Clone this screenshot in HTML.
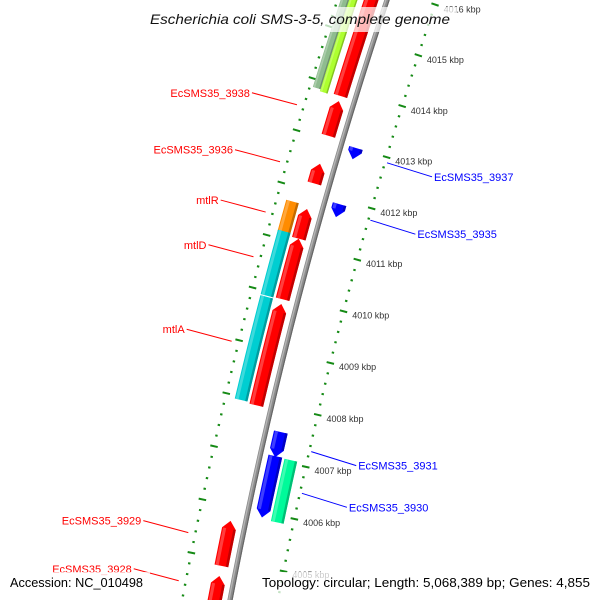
<!DOCTYPE html>
<html><head><meta charset="utf-8"><title>Escherichia coli SMS-3-5 genome map</title>
<style>
html,body{margin:0;padding:0;background:#fff;width:600px;height:600px;overflow:hidden;}
svg{display:block;font-family:"Liberation Sans",sans-serif;overflow:hidden;}
</style></head>
<body>
<svg id="map" width="600" height="600" viewBox="0 0 600 600" xmlns="http://www.w3.org/2000/svg">
<rect x="0" y="0" width="600" height="600" fill="#fff"/>
<g id="ticks"></g>
<g id="backbone"></g>
<g id="features"></g>
<g id="labels"></g>
<g id="tickLabels"></g>
<rect x="143" y="7" width="314" height="25" fill="#fff" fill-opacity="0.72"/>
<text x="150" y="24" font-size="14" font-style="italic" fill="#111" textLength="300" lengthAdjust="spacingAndGlyphs">Escherichia coli SMS-3-5, complete genome</text>
<rect x="4" y="572" width="146" height="26" fill="#fff" fill-opacity="0.75"/>
<rect x="256" y="572" width="340" height="26" fill="#fff" fill-opacity="0.75"/>
<text x="10" y="587" font-size="13" fill="#000" textLength="133" lengthAdjust="spacingAndGlyphs">Accession: NC_010498</text>
<text x="262" y="587" font-size="13" fill="#000" textLength="328" lengthAdjust="spacingAndGlyphs">Topology: circular; Length: 5,068,389 bp; Genes: 4,855</text>
</svg>
<script>
// ---- data ----
const featNames  = ["big-red-top","lime-top","olive-top","EcSMS35_3938","EcSMS35_3936","mtlR","mtlR-gene","mtlD","mtlD-gene","mtlA","mtlA-gene","EcSMS35_3929","EcSMS35_3928","EcSMS35_3937","EcSMS35_3935","EcSMS35_3931","EcSMS35_3930","EcSMS35_3930-gene"];
const featStart  = [4013.84,4013.81,4013.85,4013.07,4012.15,4011.09,4011.12,4009.93,4009.92,4007.91,4007.94,4004.87,4003.9,4012.78,4011.66,4007.05,4005.90,4005.87];
const featEnd    = [4017.6,4017.6,4017.6,4013.74,4012.53,4011.66,4011.72,4011.09,4011.15,4009.84,4009.90,4005.72,4004.68,4013.00,4011.91,4007.53,4007.07,4007.06];
const featStrand = [1,0,0,1,1,1,0,1,0,1,0,1,1,-1,-1,-1,-1,0];
const featRing   = ["f1","f3","f4","f1","f1","f1","f2","f1","f2","f1","f2","f1","f1","r1","r1","r1","r1","r2"];
const featColor  = ["#ff0000","#adff2f","#8fbc8f","#ff0000","#ff0000","#ff0000","#ff8c00","#ff0000","#00ced1","#ff0000","#00ced1","#ff0000","#ff0000","#0000ff","#0000ff","#0000ff","#0000ff","#00fa9a"];
const labelText  = ["EcSMS35_3938","EcSMS35_3936","mtlR","mtlD","mtlA","EcSMS35_3929","EcSMS35_3928","EcSMS35_3937","EcSMS35_3935","EcSMS35_3931","EcSMS35_3930"];
const labelPos   = [4013.45,4012.36,4011.40,4010.55,4008.95,4005.35,4004.45,4012.90,4011.78,4007.30,4006.50];
const labelSide  = [1,1,1,1,1,1,1,-1,-1,-1,-1];
const labelColor = ["#ff0000","#ff0000","#ff0000","#ff0000","#ff0000","#ff0000","#ff0000","#0000ff","#0000ff","#0000ff","#0000ff"];
const tickKbp    = [4005,4006,4007,4008,4009,4010,4011,4012,4013,4014,4015,4016];
const rangeMin = 4003.5, rangeMax = 4017.8;

// ---- geometry ----
const ringOff = {f1:[8,22],f2:[24.5,37.5],f3:[28,36],f4:[36,44],r1:[-22,-8],r2:[-37.5,-24.5]};
const P1=[387,0],P2=[272,404],P3=[230,600];
function circ(a,b,c){
  const d=2*(a[0]*(b[1]-c[1])+b[0]*(c[1]-a[1])+c[0]*(a[1]-b[1]));
  const s1=a[0]*a[0]+a[1]*a[1],s2=b[0]*b[0]+b[1]*b[1],s3=c[0]*c[0]+c[1]*c[1];
  const ux=(s1*(b[1]-c[1])+s2*(c[1]-a[1])+s3*(a[1]-b[1]))/d;
  const uy=(s1*(c[0]-b[0])+s2*(a[0]-c[0])+s3*(b[0]-a[0]))/d;
  return [ux,uy,Math.hypot(a[0]-ux,a[1]-uy)];
}
const [cx,cy,R]=circ(P1,P2,P3);
const a0=Math.atan2(P2[1]-cy,P2[0]-cx);
const k=53.9/R;
function pt(p,off){const a=a0+(p-4008)*k;const r=R+off;return [cx+r*Math.cos(a),cy+r*Math.sin(a)];}
function f(v){return v.toFixed(2);}
const NS="http://www.w3.org/2000/svg";
function mk(tag,attrs,parent){const e=document.createElementNS(NS,tag);for(const key in attrs)e.setAttribute(key,attrs[key]);parent.appendChild(e);return e;}
function band(p1,p2,o1,o2){
  const n=24,pts=[];
  for(let i=0;i<=n;i++)pts.push(pt(p1+(p2-p1)*i/n,o2));
  for(let i=n;i>=0;i--)pts.push(pt(p1+(p2-p1)*i/n,o1));
  return pts.map(q=>f(q[0])+","+f(q[1])).join(" ");
}
function shade(hex,amt){
  let r=parseInt(hex.substr(1,2),16),g=parseInt(hex.substr(3,2),16),b=parseInt(hex.substr(5,2),16);
  if(amt>0){r+=(255-r)*amt;g+=(255-g)*amt;b+=(255-b)*amt;}else{r*=1+amt;g*=1+amt;b*=1+amt;}
  return "rgb("+Math.round(r)+","+Math.round(g)+","+Math.round(b)+")";
}

// ---- backbone ----
const bb=document.getElementById('backbone');
let e=mk('polygon',{points:band(rangeMin,rangeMax,-2.6,2.6),fill:'#8c8c8c'},bb);


e=mk('polygon',{points:band(rangeMin,rangeMax,0.4,1.8),fill:'#b4b4b4'},bb);


e=mk('polygon',{points:band(rangeMin,rangeMax,-2.6,-1.4),fill:'#666'},bb);



// ---- tick rings ----
const tg=document.getElementById('ticks');
const tl=document.getElementById('tickLabels');
const ringCenters=[47,-47];
for(let i=Math.ceil(rangeMin*5);i<=Math.floor(rangeMax*5);i++){
  const p=i/5;const major=(i%5===0);
  for(const rc of ringCenters){
    const half=major?3.8:1.2;
    const a=pt(p,rc-half),b=pt(p,rc+half);
    const t=mk('line',{x1:f(a[0]),y1:f(a[1]),x2:f(b[0]),y2:f(b[1]),stroke:'#158a15','stroke-width':2},tg);
    
    
  }
}
tickKbp.forEach(function(v){
  const q=pt(v,-56);
  const t=mk('text',{x:f(q[0]),y:f(q[1]+5),'font-size':9,fill:'#333'},tl);
  t.textContent=v+" kbp";
  
  
});

// ---- features ----
const fg=document.getElementById('features');
const head=8/53.9;
featNames.forEach(function(name,i){
  const s=featStart[i],en=featEnd[i],st=featStrand[i];
  const o=ringOff[featRing[i]];const oc=(o[0]+o[1])/2;
  const g=mk('g',{},fg);
  
  
  let pts;
  if(st===0){pts=band(s,en,o[0],o[1]);}
  else{
    const n=16,arr=[];
    if(st===1){
      const b=en-head;
      for(let j=0;j<=n;j++)arr.push(pt(s+(b-s)*j/n,o[1]));
      arr.push(pt(en,oc));
      for(let j=n;j>=0;j--)arr.push(pt(s+(b-s)*j/n,o[0]));
    }else{
      const b=s+head;
      arr.push(pt(s,oc));
      for(let j=0;j<=n;j++)arr.push(pt(b+(en-b)*j/n,o[1]));
      for(let j=n;j>=0;j--)arr.push(pt(b+(en-b)*j/n,o[0]));
    }
    pts=arr.map(q=>f(q[0])+","+f(q[1])).join(" ");
  }
  const m=mk('polygon',{points:pts,fill:featColor[i]},g);
  
  
  const w=o[1]-o[0];
  const bs=st===-1?s+head:s, be=st===1?en-head:en;
  const hl=mk('polygon',{points:band(bs,be,o[1]-w*0.3,o[1]-w*0.08),fill:shade(featColor[i],0.3),'fill-opacity':0.8},g);
  
  
  const sh=mk('polygon',{points:band(bs,be,o[0],o[0]+w*0.18),fill:shade(featColor[i],-0.3),'fill-opacity':0.8},g);
  
  
});

// ---- labels ----
const lg=document.getElementById('labels');
labelText.forEach(function(txt,i){
  const side=labelSide[i];
  const a=pt(labelPos[i],side===1?54:-49);
  const b=side===1?[a[0]-45,a[1]-12]:[a[0]+45,a[1]+14];
  const g=mk('g',{},lg);
  
  
  const l=mk('line',{x1:f(a[0]),y1:f(a[1]),x2:f(b[0]),y2:f(b[1]),stroke:labelColor[i],'stroke-width':1},g);
  
  
  const t=mk('text',{x:f(b[0]+(side===1?-2:2)),y:f(b[1]+4),'font-size':11,fill:labelColor[i],'text-anchor':side===1?'end':'start'},g);
  t.textContent=txt;
  
  
});
</script>
</body></html>
